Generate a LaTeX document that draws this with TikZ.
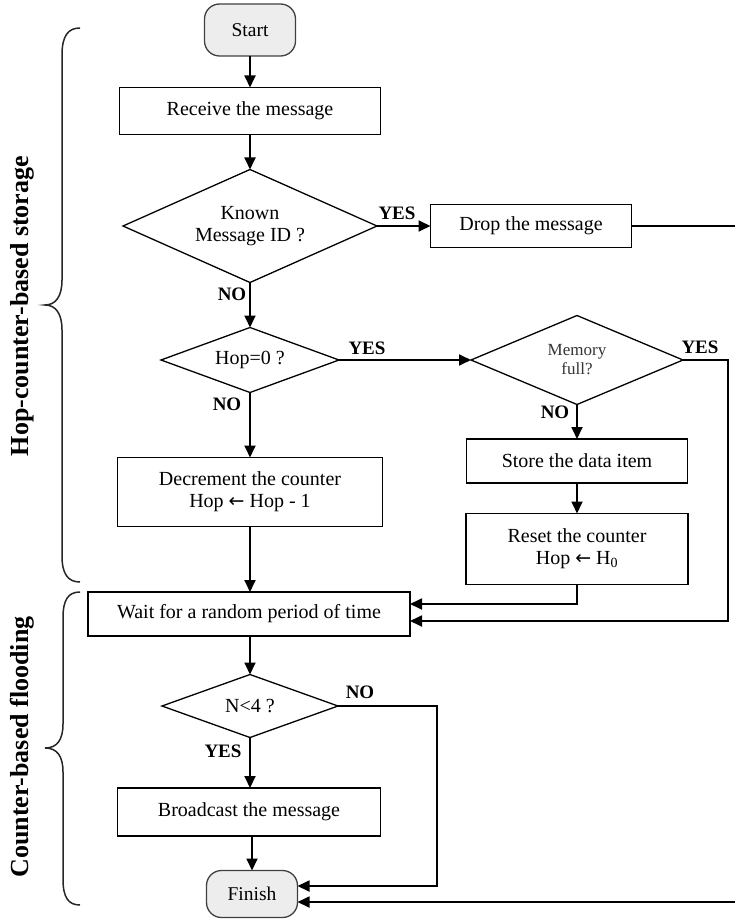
\documentclass[tikz,border=0pt]{standalone}
\usepackage{fontspec}
\setmainfont{Liberation Serif}
\newfontfamily\symfont{DejaVu Sans}
\usetikzlibrary{arrows.meta,shapes.geometric,calc}
\newcommand{\larr}{{\symfont\fontsize{19}{16}\selectfont ←}}
\begin{document}
\begin{tikzpicture}[x=1pt,y=-1pt,
  every node/.style={inner sep=0pt, outer sep=0pt},
  proc/.style={draw, line width=1.3pt, align=center, font=\fontsize{20}{22}\selectfont},
  term/.style={draw=black!75, line width=1.3pt, fill=black!7, rounded corners=15pt,
    font=\fontsize{19.5}{20}\selectfont, minimum width=91pt},
  dec/.style={draw, diamond, line width=1.3pt, align=center, font=\fontsize{20}{22}\selectfont},
  lbl/.style={font=\bfseries\fontsize{19}{20}\selectfont},
  side/.style={font=\bfseries\fontsize{26}{28}\selectfont, rotate=90},
  conn/.style={line width=1.8pt, -{Triangle[length=12pt,width=11pt]}},
  bracestyle/.style={line width=1.5pt, draw=black!85},
]
\useasboundingbox (0,0) rectangle (734,920);

% nodes
\node[term, minimum height=52pt] (start) at (250,30) {Start};
\node[proc, minimum width=261pt, minimum height=47pt] (recv) at (250,111) {Receive the message};
\node[dec, minimum width=254pt, minimum height=113pt, aspect=2.25] (known) at (250,226) {Known\\Message ID ?};
\node[proc, minimum width=201pt, minimum height=43pt] (drop) at (531,226) {Drop the message};
\node[dec, minimum width=178pt, minimum height=65pt, aspect=2.7] (hop) at (250,360) {Hop=0 ?};
\node[dec, minimum width=212pt, minimum height=89pt, aspect=2.4, font=\fontsize{17}{19}\selectfont, text=black!80] (mem) at (577,360) {Memory\\full?};
\node[proc, minimum width=221pt, minimum height=44pt] (store) at (577,461) {Store the data item};
\node[proc, minimum width=222pt, minimum height=71pt] (reset) at (577,549) {Reset the counter\\Hop \larr{} H\textsubscript{0}};
\node[proc, minimum width=265pt, minimum height=69pt] (decr) at (250,492) {Decrement the counter\\Hop \larr{} Hop - 1};
\node[proc, minimum width=322pt, minimum height=44pt] (wait) at (249,614) {Wait for a random period of time};
\node[dec, minimum width=176pt, minimum height=63pt, aspect=2.7] (nfour) at (250,706) {N<4 ?};
\node[proc, minimum width=263pt, minimum height=48pt] (bcast) at (249,812) {Broadcast the message};
\node[term, minimum height=47pt] (finish) at (252,894) {Finish};

% labels
\node[lbl] (yes1) at (397,213) {YES};
\node[lbl] (no1) at (232,294) {NO};
\node[lbl] (yes2) at (367,348) {YES};
\node[lbl] (no2) at (227,404) {NO};
\node[lbl] (yes3) at (700,347) {YES};
\node[lbl] (no3) at (555,412) {NO};
\node[lbl] (no4) at (360,692) {NO};
\node[lbl] (yes4) at (223,751) {YES};

% side labels
\node[side] (sideA) at (22,306) {Hop-counter-based storage};
\node[side] (sideB) at (22,747) {Counter-based flooding};

% braces
\draw[bracestyle] (80,28) .. controls (68,28) and (62,36) .. (62,55) -- (62,280)
  .. controls (62,296) and (56,305) .. (45,305)
  .. controls (56,305) and (62,314) .. (62,330) -- (62,556)
  .. controls (62,574) and (68,582) .. (80,582);
\draw[bracestyle] (80,592) .. controls (68,592) and (63,600) .. (63,618) -- (63,724)
  .. controls (63,740) and (57,748) .. (45,748)
  .. controls (57,748) and (63,756) .. (63,772) -- (63,879)
  .. controls (63,897) and (68,905) .. (80,905);

% connectors
\draw[conn] (start) -- (recv);
\draw[conn] (recv) -- (known);
\draw[conn] (known) -- (drop);
\draw[conn] (drop.east) -- (745,226) -- (745,902) -- ($(finish.east)+(0,8)$);
\draw[conn] (known) -- (hop);
\draw[conn] (hop) -- (mem);
\draw[conn] (mem.east) -- (728,360) -- (728,621) -- ($(wait.east)+(0,7)$);
\draw[conn] (mem) -- (store);
\draw[conn] (store) -- (reset);
\draw[conn] (reset.south) |- ($(wait.east)+(0,-10)$);
\draw[conn] (hop) -- (decr);
\draw[conn] (decr) -- (wait.north -| decr);
\draw[conn] (wait.south -| nfour) -- (nfour);
\draw[conn] (nfour.east) -- (437,706) -- (437,886) -- ($(finish.east)+(0,-8)$);
\draw[conn] (nfour) -- (bcast.north -| nfour);
\draw[conn] (bcast.south -| finish) -- (finish);
\end{tikzpicture}
\end{document}
